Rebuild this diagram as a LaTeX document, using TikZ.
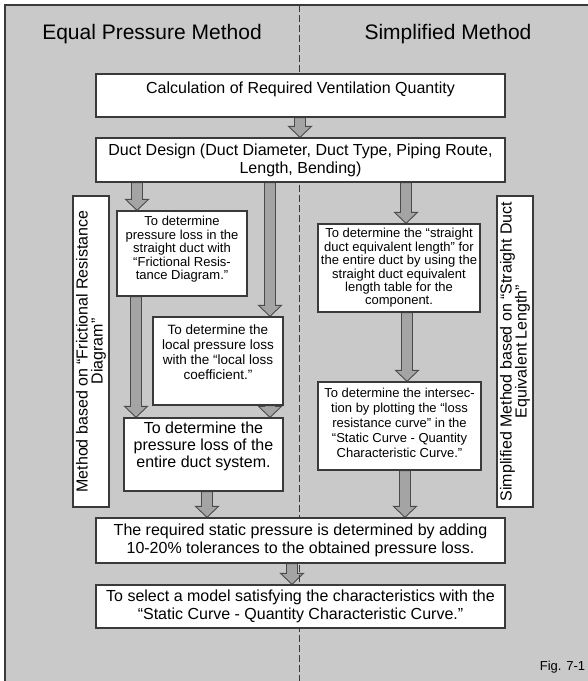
\documentclass[tikz,border=0pt]{standalone}
\usepackage{fontspec}
\setmainfont{Liberation Sans}
\usetikzlibrary{calc,backgrounds}

\definecolor{panel}{HTML}{C8C9C8}
\definecolor{edge}{HTML}{3A3A3A}
\definecolor{shaft}{HTML}{A4A4A4}
\definecolor{shaftline}{HTML}{4A4A4A}

% fixed-size text block: width, height, inner position, text
\newcommand{\boxtext}[4]{\parbox[c][#2][#3]{#1}{\centering #4\par}}
% block arrow straight down at x from one node to the next
\newcommand{\flowarrow}[3]{%
  \filldraw[flow] let \p1=(#2.south), \p2=(#3.north) in
    (#1pt-5.5pt,\y1) -- (#1pt+5.5pt,\y1) -- (#1pt+5.5pt,\y2+11pt) -- (#1pt+11.5pt,\y2+11pt)
    -- (#1pt,\y2) -- (#1pt-11.5pt,\y2+11pt) -- (#1pt-5.5pt,\y2+11pt) -- cycle;}

\begin{document}
\begin{tikzpicture}[x=1pt,y=-1pt,
  box/.style={draw=edge,fill=white,line width=1.3pt,inner sep=0pt,font=\fontsize{16}{18}\selectfont},
  note/.style={box,font=\fontsize{13}{13.4}\selectfont},
  side/.style={box,rotate=90,font=\fontsize{16}{15}\selectfont},
  head/.style={font=\fontsize{21}{25}\selectfont,inner sep=0pt},
  flow/.style={fill=shaft,draw=shaftline,line width=0.9pt}]
  \useasboundingbox (0,0) rectangle (588,681);
  \clip (0,0) rectangle (588,681);

  \node[head,anchor=base] (eqhead) at (152,39) {Equal Pressure Method};
  \node[head,anchor=base] (simhead) at (448,39) {Simplified Method};

  % common steps
  \node[box] (calc) at (300.5,95.5) {\boxtext{409pt}{43pt}{t}{\vspace*{8pt}Calculation of Required Ventilation Quantity}};
  \node[box] (design) at (300.5,160) {\boxtext{409pt}{44pt}{c}{Duct Design (Duct Diameter, Duct Type, Piping Route,\\ Length, Bending)}};

  % equal pressure method
  \node[side] (fricside) at (91,351.5) {\boxtext{311pt}{36pt}{c}{Method based on “Frictional Resistance\\ Diagram”}};
  \node[note] (fric) at (182,253.5) {\boxtext{130pt}{85pt}{t}{\vspace*{5.5pt}To determine\\ pressure loss in the\\ straight duct with\\ “Frictional Resis-\\ tance Diagram.”}};
  \node[note,font=\fontsize{13.5}{15}\selectfont] (local) at (218,361) {\boxtext{130pt}{88pt}{t}{\vspace*{8pt}To determine the\\ local pressure loss\\ with the “local loss\\ coefficient.”}};
  \node[box,font=\fontsize{16}{16.7}\selectfont] (total) at (203.5,454.5) {\boxtext{159pt}{73pt}{t}{\vspace*{4pt}To determine the\\ pressure loss of the\\ entire duct system.}};

  % simplified method
  \node[side] (equivside) at (515,351.5) {\boxtext{311pt}{36pt}{c}{Simplified Method based on “Straight Duct\\ Equivalent Length”}};
  \node[note] (equiv) at (399,268) {\boxtext{162pt}{88pt}{c}{To determine the “straight\\ duct equivalent length” for\\ the entire duct by using the\\ straight duct equivalent\\ length table for the\\ component.}};
  \node[note,font=\fontsize{13}{15}\selectfont] (cross) at (399.5,426) {\boxtext{163pt}{88pt}{t}{\vspace*{6pt}To determine the intersec-\\ tion by plotting the “loss\\ resistance curve” in the\\ “Static Curve - Quantity\\ Characteristic Curve.”}};

  % common result
  \node[box] (static) at (300.5,540.5) {\boxtext{409pt}{45pt}{c}{The required static pressure is determined by adding\\ 10-20\% tolerances to the obtained pressure loss.}};
  \node[box] (select) at (300.5,606.5) {\boxtext{409pt}{43pt}{c}{To select a model satisfying the characteristics with the\\ “Static Curve - Quantity Characteristic Curve.”}};

  \node[font=\fontsize{13}{15}\selectfont,anchor=base,inner sep=0pt] (fig) at (562.5,670) {Fig. 7-1};

  % panel, arrows and column divider behind the boxes
  \begin{scope}[on background layer]
    \filldraw[fill=panel,draw=edge,line width=1.5pt] (5,5) rectangle (600,700);
    \flowarrow{137}{design}{fric}
    \flowarrow{270}{design}{local}
    \flowarrow{406}{design}{equiv}
    \flowarrow{136}{fric}{total}
    \flowarrow{270}{local}{total}
    \flowarrow{407}{equiv}{cross}
    \flowarrow{207}{total}{static}
    \flowarrow{405}{cross}{static}
    \flowarrow{292}{static}{select}
    \draw[edge,line width=1pt,dash pattern=on 7pt off 3pt] (299,5) -- (299,681);
    \flowarrow{300}{calc}{design}
  \end{scope}
\end{tikzpicture}
\end{document}
